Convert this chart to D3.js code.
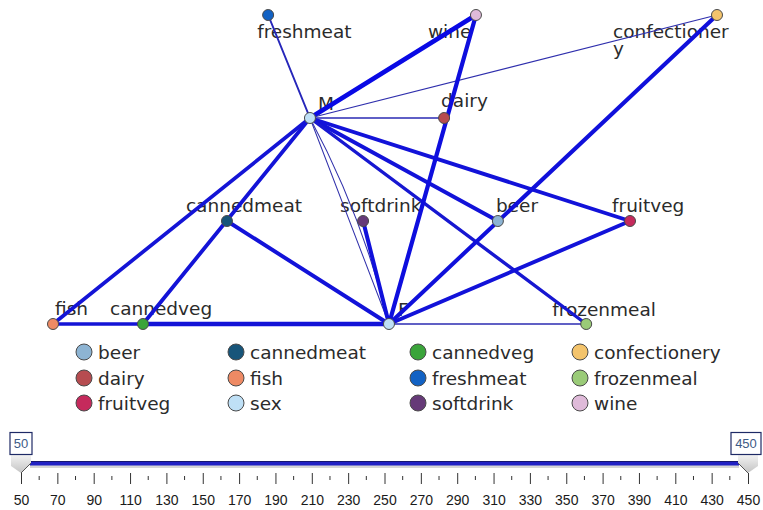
<!DOCTYPE html>
<html><head><meta charset="utf-8">
<script src="https://cdn.jsdelivr.net/npm/d3@7/dist/d3.min.js"></script>
<style>body{margin:0;background:#fff;} svg{display:block;}</style>
</head><body><svg id="chart" width="763" height="510"></svg>
<script>
// ---------- data ----------
const nodeIds     = ["freshmeat","wine","confectionery","M","dairy","cannedmeat","softdrink","beer","fruitveg","fish","cannedveg","F","frozenmeal"];
const nodeGroups  = ["freshmeat","wine","confectionery","sex","dairy","cannedmeat","softdrink","beer","fruitveg","fish","cannedveg","sex","frozenmeal"];
const nodeLabels  = [["freshmeat"],["wine"],["confectioner","y"],["M"],["dairy"],["cannedmeat"],["softdrink"],["beer"],["fruitveg"],["fish"],["cannedveg"],["F"],["frozenmeal"]];
// layout coordinates of the web graph (0-100 horizontally, level 0-3 vertically)
const nodeLayoutX = [32.4, 63.7, 100, 38.7, 58.9, 26.2, 46.7, 67.0, 86.9, 0, 13.55, 50.6, 80.3];
const nodeLevel   = [0, 0, 0, 1, 1, 2, 2, 2, 2, 3, 3, 3, 3];

const edgeSource = ["M","M","M","M","M","M","M","M","M","M","F","F","F","F","F","F","F","F"];
const edgeTarget = ["freshmeat","wine","confectionery","dairy","fish","cannedveg","beer","fruitveg","frozenmeal","F","wine","confectionery","fruitveg","softdrink","cannedmeat","cannedveg","fish","frozenmeal"];
const edgeCount  = [170, 420, 90, 130, 330, 340, 350, 350, 300, 80, 380, 360, 350, 360, 350, 400, 330, 120];

const legendCategories = ["beer","cannedmeat","cannedveg","confectionery","dairy","fish","freshmeat","frozenmeal","fruitveg","sex","softdrink","wine"];
const legendColors     = ["#8db4d3","#17557a","#3aa43a","#f4c46c","#b64c50","#ee8a64","#1262c4","#9acb78","#c52a5c","#bfe0f6","#663a78","#dfbad9"];

const sliderMin = 50, sliderMax = 450;
const sliderLabels = [50,70,90,110,130,150,170,190,210,230,250,270,290,310,330,350,370,390,410,430,450];
const sliderMinorTicks = [60,80,100,120,140,160,180,200,220,240,260,280,300,320,340,360,380,400,420,440];

// ---------- layout / style ----------
const svg = d3.select("#chart");
const FONT = "DejaVu Sans";
const FS = 18.5;
const color = d3.scaleOrdinal().domain(legendCategories).range(legendColors);
const x = d3.scaleLinear().domain([0, 100]).range([53, 717]);
const y = d3.scaleLinear().domain([0, 3]).range([15, 324]);
const width = d3.scaleLinear().domain([sliderMin, sliderMax]).range([0.7, 5.0]);
const edgeColor = d3.scaleLinear().domain([sliderMin, sliderMax]).range(["#3434a6", "#0606ea"]);

const labelOffset = {
  freshmeat:[-11,23], wine:[-48,23], confectionery:[-104,23],
  M:[8,-8], dairy:[-3,-11],
  cannedmeat:[-41,-9], softdrink:[-23,-9], beer:[-2,-9], fruitveg:[-18,-9],
  fish:[2,-9], cannedveg:[-33,-9], F:[9,-8], frozenmeal:[-34,-8]
};
const doubleEdges = new Set(["M-F"]);

const nodes = nodeIds.map((id, i) => ({id, group: nodeGroups[i], label: nodeLabels[i], px: x(nodeLayoutX[i]), py: y(nodeLevel[i])}));
const byId = new Map(nodes.map(n => [n.id, n]));
const edges = edgeSource.map((s, i) => ({s: byId.get(s), t: byId.get(edgeTarget[i]), v: edgeCount[i], key: s + "-" + edgeTarget[i]}));

// labels (drawn under the links)
const lab = svg.append("g").selectAll("text").data(nodes).join("text")
  .attr("font-family", FONT).attr("font-size", FS).attr("fill", "#2b2b2b")
  .attr("x", d => d.px + labelOffset[d.id][0])
  .attr("y", d => d.py + labelOffset[d.id][1]);
lab.selectAll("tspan").data(d => d.label.map((t, k) => ({t, k, d}))).join("tspan")
  .attr("x", o => o.d.px + labelOffset[o.d.id][0])
  .attr("dy", o => o.k === 0 ? 0 : 17)
  .text(o => o.t);

// links
const gE = svg.append("g").attr("fill", "none").attr("stroke-linecap", "round");
edges.forEach(e => {
  const path = d3.path();
  path.moveTo(e.s.px, e.s.py); path.lineTo(e.t.px, e.t.py);
  gE.append("path").attr("d", path.toString())
    .attr("stroke", edgeColor(e.v)).attr("stroke-width", width(e.v));
  if (doubleEdges.has(e.key)) {
    const mx = (e.s.px + e.t.px) / 2, my = (e.s.py + e.t.py) / 2;
    const dx = e.t.px - e.s.px, dy = e.t.py - e.s.py, L = Math.hypot(dx, dy);
    const p2 = d3.path();
    p2.moveTo(e.s.px, e.s.py);
    p2.quadraticCurveTo(mx + (dy / L) * 14, my - (dx / L) * 14, e.t.px, e.t.py);
    gE.append("path").attr("d", p2.toString())
      .attr("stroke", edgeColor(e.v)).attr("stroke-width", width(e.v));
  }
});

// nodes
svg.append("g").selectAll("circle").data(nodes).join("circle")
  .attr("cx", d => d.px).attr("cy", d => d.py).attr("r", 5.5)
  .attr("fill", d => color(d.group)).attr("stroke", "#4a4a4a").attr("stroke-width", 1);

// legend
const colX = [84, 236, 418, 580], rowY = [352, 378, 403];
const lg = svg.append("g").selectAll("g").data(legendCategories).join("g")
  .attr("transform", (d, i) => `translate(${colX[i % 4]},${rowY[Math.floor(i / 4)]})`);
lg.append("circle").attr("r", 8).attr("fill", d => color(d)).attr("stroke", "#4a4a4a").attr("stroke-width", 1);
lg.append("text").attr("x", 14).attr("y", 6.5).attr("font-family", FONT).attr("font-size", FS)
  .attr("fill", "#2b2b2b").text(d => d);

// slider
const sx = d3.scaleLinear().domain([sliderMin, sliderMax]).range([21, 748]);
const sl = svg.append("g");
const defs = svg.append("defs");
const grad = defs.append("linearGradient").attr("id", "hg").attr("x1", 0).attr("y1", 0).attr("x2", 0).attr("y2", 1);
grad.append("stop").attr("offset", "0%").attr("stop-color", "#f2f2f2");
grad.append("stop").attr("offset", "100%").attr("stop-color", "#c4c4c4");

sl.append("rect").attr("x", sx(sliderMin) + 9).attr("y", 465).attr("width", sx(sliderMax) - sx(sliderMin) - 18).attr("height", 3).attr("fill", "#d6d6d6");
sl.append("rect").attr("x", sx(sliderMin) + 9).attr("y", 461.5).attr("width", sx(sliderMax) - sx(sliderMin) - 18).attr("height", 4).attr("fill", "#2222c4");
sl.append("line").attr("x1", sx(sliderMin) + 9).attr("x2", sx(sliderMax) - 9).attr("y1", 461.5).attr("y2", 461.5).attr("stroke", "#161670").attr("stroke-width", 1);

// minor ticks
sl.append("g").selectAll("line").data(sliderMinorTicks).join("line")
  .attr("x1", d => sx(d)).attr("x2", d => sx(d)).attr("y1", 476).attr("y2", 480)
  .attr("stroke", "#333").attr("stroke-width", 1);
// major ticks + labels via axis
const ax = sl.append("g").attr("transform", "translate(0,473)")
  .call(d3.axisBottom(sx).tickValues(sliderLabels).tickSize(11).tickPadding(11).tickFormat(d3.format("d")));
ax.select(".domain").remove();
ax.selectAll(".tick line").attr("stroke", "#333");
ax.selectAll(".tick text").attr("font-family", "Liberation Sans").attr("font-size", 14).attr("fill", "#1a1a1a");

// handles
[[sliderMin, 1], [sliderMax, -1]].forEach(([v, dir]) => {
  const x0 = sx(v);
  sl.append("path")
    .attr("d", `M${x0 - 10 * dir},455 L${x0 + 10 * dir},455 L${x0 + 10 * dir},463 L${x0},473 L${x0 - 10 * dir},466 Z`)
    .attr("fill", "url(#hg)").attr("stroke", "none");
  sl.append("path")
    .attr("d", `M${x0 + 10 * dir},463 L${x0},473`)
    .attr("stroke", "#555").attr("fill", "none");
  const txt = String(v);
  const w = txt.length * 8 + 6;
  const cx = dir === 1 ? x0 : x0 - 2;
  sl.append("rect").attr("x", cx - w / 2).attr("y", 432.5).attr("width", w).attr("height", 22)
    .attr("fill", "#fff").attr("stroke", "#1e2a66").attr("stroke-width", 1.2);
  sl.append("text").attr("x", cx).attr("y", 448).attr("text-anchor", "middle")
    .attr("font-family", "Liberation Sans").attr("font-size", 13).attr("fill", "#3d5a86").text(txt);
});
</script></body></html>
